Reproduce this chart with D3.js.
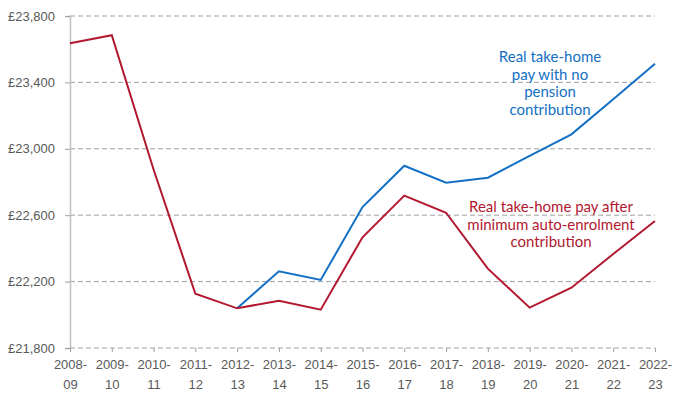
<!DOCTYPE html>
<html>
<head>
<meta charset="utf-8">
<script src="https://cdn.jsdelivr.net/npm/d3@7"></script>
<style>
  html, body { margin: 0; padding: 0; background: #fff; }
</style>
</head>
<body>
<div id="chart"></div>
<script>
// --- DATA ---
const YEARS = ["2008-09", "2009-10", "2010-11", "2011-12", "2012-13", "2013-14", "2014-15",
  "2015-16", "2016-17", "2017-18", "2018-19", "2019-20", "2020-21", "2021-22", "2022-23"];

// real take-home pay after minimum auto-enrolment contribution
const AFTER_AE = [23636, 23684, 22875, 22127, 22039, 22085, 22031,
  22467, 22718, 22615, 22278, 22043, 22163, 22366, 22565];

// real take-home pay with no pension contribution (starts 2012-13)
const NO_PENSION = [null, null, null, null, 22039, 22262, 22210,
  22649, 22898, 22796, 22826, 22957, 23087, 23298, 23513];

const Y_TICKS = [21800, 22200, 22600, 23000, 23400, 23800];

// --- LAYOUT ---
const WIDTH = 689;
const HEIGHT = 397;
const MARGIN = { top: 16, right: 34, bottom: 49, left: 70 };

const BLUE = "#1470c4";
const RED = "#b2182f";
const GREY_TXT = "#595959";

const svg = d3.select("#chart")
  .append("svg")
  .attr("width", WIDTH)
  .attr("height", HEIGHT)
  .style("font-family", "Lato, 'Open Sans', sans-serif");

const x = d3.scalePoint()
  .domain(YEARS)
  .range([MARGIN.left, WIDTH - MARGIN.right]);

const y = d3.scaleLinear()
  .domain([21800, 23800])
  .range([HEIGHT - MARGIN.bottom, MARGIN.top]);

// gridlines (dashed)
svg.append("g")
  .selectAll("line")
  .data(Y_TICKS)
  .join("line")
  .attr("x1", MARGIN.left)
  .attr("x2", WIDTH - MARGIN.right)
  .attr("y1", d => y(d))
  .attr("y2", d => y(d))
  .attr("stroke", "#a0a0a0")
  .attr("stroke-width", 1)
  .attr("stroke-dasharray", "5,3");

// y axis
const yAxis = d3.axisLeft(y)
  .tickValues(Y_TICKS)
  .tickFormat(d => "£" + d3.format(",")(d))
  .tickSize(5)
  .tickPadding(10);

svg.append("g")
  .attr("transform", `translate(${MARGIN.left},0)`)
  .call(yAxis)
  .call(g => g.select(".domain").attr("stroke", "#bfbfbf").attr("stroke-width", 1.5))
  .call(g => g.selectAll(".tick line").attr("stroke", "#a0a0a0"))
  .selectAll("text")
  .attr("font-size", "13px")
  .attr("fill", GREY_TXT);

// x axis
const xAxis = d3.axisBottom(x)
  .tickSize(4)
  .tickFormat("");

const xg = svg.append("g")
  .attr("transform", `translate(0,${HEIGHT - MARGIN.bottom})`)
  .call(xAxis)
  .call(g => g.select(".domain").remove())
  .call(g => g.selectAll(".tick line").attr("stroke", "#a0a0a0"));

xg.selectAll(".tick")
  .append("text")
  .attr("fill", GREY_TXT)
  .attr("font-size", "13px")
  .attr("text-anchor", "middle")
  .selectAll("tspan")
  .data(d => [d.slice(0, 5), d.slice(5)])
  .join("tspan")
  .attr("x", 0)
  .attr("y", (d, i) => 12 + i * 20)
  .attr("dy", "0.71em")
  .text(d => d);

// lines
const line = d3.line()
  .defined(d => d[1] != null)
  .x(d => x(d[0]))
  .y(d => y(d[1]));

svg.append("path")
  .datum(YEARS.map((yr, i) => [yr, NO_PENSION[i]]))
  .attr("fill", "none")
  .attr("stroke", BLUE)
  .attr("stroke-width", 2)
  .attr("d", line);

svg.append("path")
  .datum(YEARS.map((yr, i) => [yr, AFTER_AE[i]]))
  .attr("fill", "none")
  .attr("stroke", RED)
  .attr("stroke-width", 2)
  .attr("d", line);

// labels
function multiLabel(lines, cx, top, color) {
  svg.append("text")
    .attr("text-anchor", "middle")
    .attr("font-size", "15px")
    .attr("fill", color)
    .selectAll("tspan")
    .data(lines)
    .join("tspan")
    .attr("x", cx)
    .attr("y", (d, i) => top + i * 17.5)
    .text(d => d);
}

multiLabel(["Real take-home", "pay with no", "pension", "contribution"], 550, 62, BLUE);
multiLabel(["Real take-home pay after", "minimum auto-enrolment", "contribution"], 551, 212, RED);
</script>
</body>
</html>
